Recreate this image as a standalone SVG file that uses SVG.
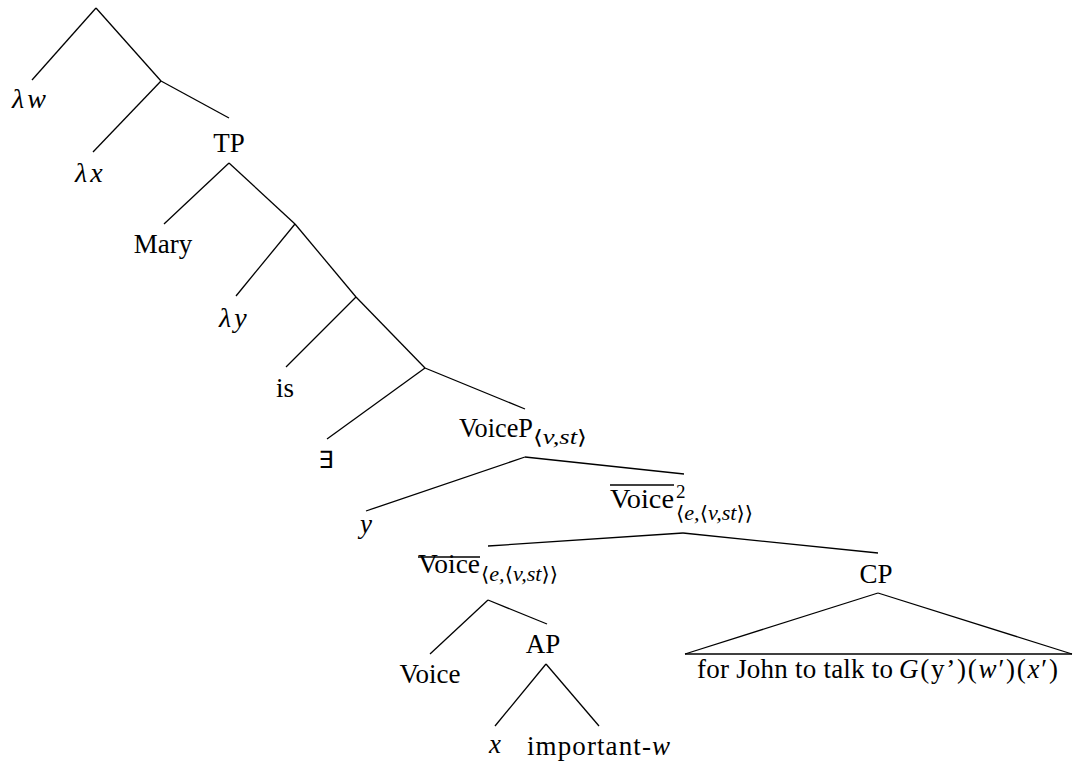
<svg xmlns="http://www.w3.org/2000/svg" width="1075" height="761" viewBox="0 0 1075 761">
<style>
text{font-family:"Liberation Serif","Times New Roman",serif;font-size:27px;fill:#000}
.i{font-style:italic}
.l{font-style:italic;font-size:28px}
.m{text-anchor:middle}
.s{font-size:19px}
.e{font-size:20px;font-family:"DejaVu Serif","Liberation Serif",serif}
.ei{font-style:italic;font-family:"Liberation Serif",serif;font-size:21px}
line{stroke:#000;stroke-width:1.3}
</style>
<rect width="1075" height="761" fill="#fff"/>
<g id="connectors">
<line x1="96" y1="8" x2="32" y2="80"/>
<line x1="96" y1="8" x2="161" y2="81"/>
<line x1="161" y1="81" x2="93" y2="152"/>
<line x1="161" y1="81" x2="229" y2="118"/>
<line x1="229" y1="163" x2="164" y2="224"/>
<line x1="229" y1="163" x2="295" y2="224"/>
<line x1="295" y1="224" x2="236" y2="296"/>
<line x1="295" y1="224" x2="356" y2="297"/>
<line x1="356" y1="297" x2="286" y2="367"/>
<line x1="356" y1="297" x2="425" y2="368"/>
<line x1="425" y1="368" x2="327" y2="439"/>
<line x1="425" y1="368" x2="525" y2="409"/>
<line x1="525" y1="457" x2="366" y2="511"/>
<line x1="525" y1="457" x2="684" y2="474"/>
<line x1="683" y1="533" x2="488" y2="546"/>
<line x1="683" y1="533" x2="878" y2="553"/>
<line x1="488" y1="600" x2="430" y2="654"/>
<line x1="488" y1="600" x2="547" y2="624"/>
<line x1="546" y1="664" x2="495" y2="726"/>
<line x1="546" y1="664" x2="599" y2="726"/>
<line x1="878" y1="593" x2="685" y2="654"/>
<line x1="878" y1="593" x2="1072" y2="654"/>
<line x1="685" y1="654" x2="1072" y2="654"/>
</g>
<g id="n-lw"><text x="12" y="108" class="l">λ<tspan dx="3">w</tspan></text></g>
<g id="n-lx"><text x="75" y="182" class="l">λ<tspan dx="3">x</tspan></text></g>
<g id="n-TP"><text x="229" y="152" class="m">TP</text></g>
<g id="n-Mary"><text x="163" y="253" class="m">Mary</text></g>
<g id="n-ly"><text x="219" y="327" class="l">λ<tspan dx="3">y</tspan></text></g>
<g id="n-is"><text x="285" y="397" class="m">is</text></g>
<g id="n-E"><text x="326" y="468" class="m" style="font-family:'DejaVu Sans',sans-serif;font-size:24px">∃</text></g>
<g id="n-VoiceP"><text x="459" y="437" textLength="74" lengthAdjust="spacingAndGlyphs">VoiceP</text><text x="533" y="444" class="e" textLength="54" lengthAdjust="spacingAndGlyphs">⟨<tspan class="ei">v,st</tspan>⟩</text></g>
<g id="n-y"><text x="366" y="533" class="m i">y</text></g>
<g id="n-Voicebar2"><text x="610" y="508" textLength="64" lengthAdjust="spacingAndGlyphs">Voice</text><line x1="610" y1="485" x2="674" y2="485"/><text x="676" y="498" class="s">2</text><text x="676" y="520" class="e" textLength="77" lengthAdjust="spacingAndGlyphs">⟨<tspan class="ei">e,</tspan>⟨<tspan class="ei">v,st</tspan>⟩⟩</text></g>
<g id="n-Voicebar"><text x="418" y="573" textLength="62" lengthAdjust="spacingAndGlyphs">Voice</text><line x1="418" y1="557" x2="480" y2="557"/><text x="481" y="581" class="e" textLength="77" lengthAdjust="spacingAndGlyphs">⟨<tspan class="ei">e,</tspan>⟨<tspan class="ei">v,st</tspan>⟩⟩</text></g>
<g id="n-Voice"><text x="430" y="683" class="m">Voice</text></g>
<g id="n-AP"><text x="543" y="653" class="m">AP</text></g>
<g id="n-x"><text x="495" y="753" class="m i">x</text></g>
<g id="n-imp"><text x="527" y="755" textLength="143" lengthAdjust="spacing">important-<tspan class="i">w</tspan></text></g>
<g id="n-CP"><text x="876" y="583" class="m">CP</text></g>
<g id="n-for"><text x="697" y="678" textLength="196" lengthAdjust="spacing">for John to talk to</text><text x="899" y="678" textLength="159" lengthAdjust="spacing"><tspan class="i">G</tspan>(y’)(<tspan class="i">w</tspan>′)(<tspan class="i">x</tspan>′)</text></g>
</svg>
